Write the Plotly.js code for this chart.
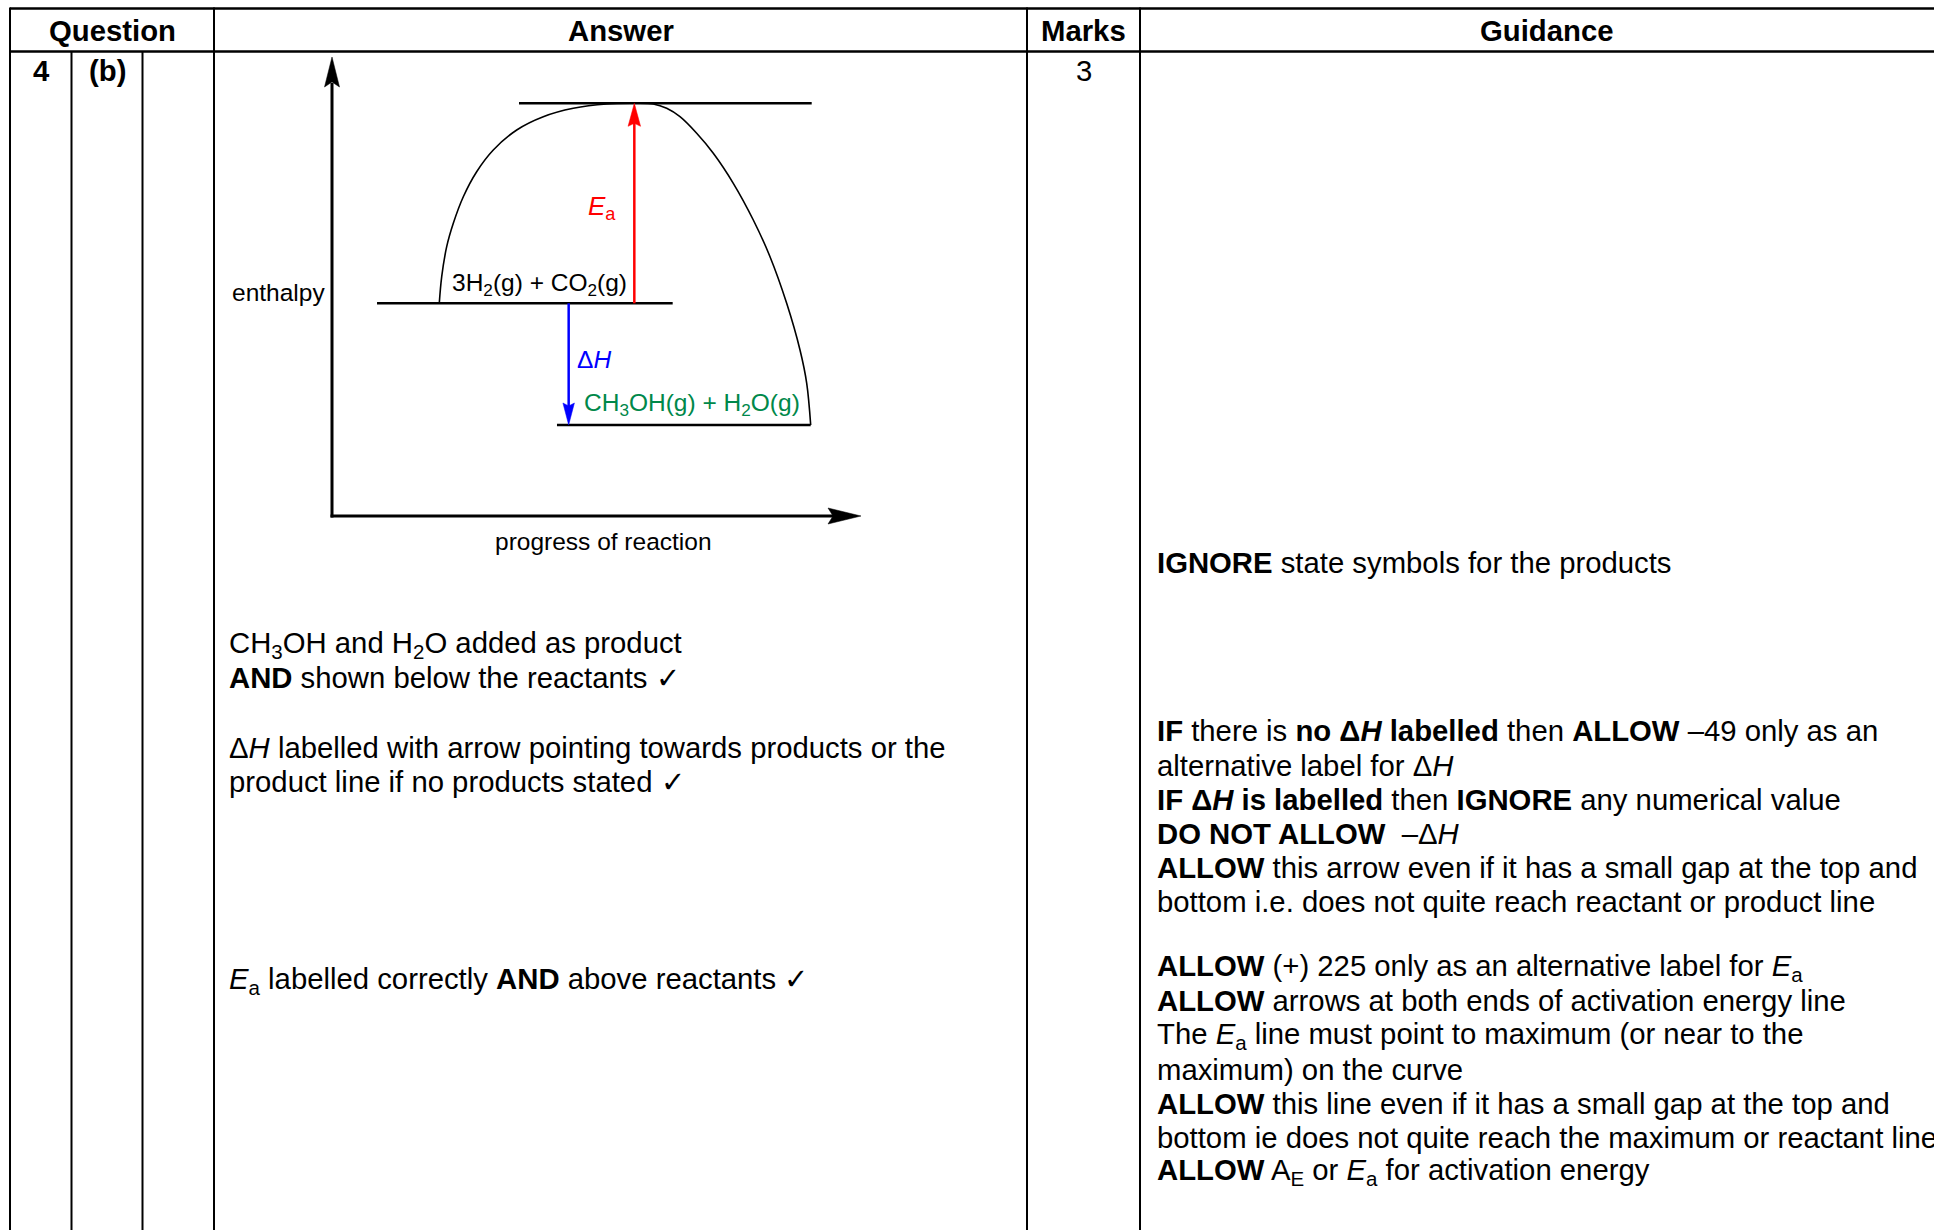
<!DOCTYPE html>
<html>
<head>
<meta charset="utf-8">
<script src="https://cdn.plot.ly/plotly-3.0.1.min.js"></script>
<style>html,body{margin:0;padding:0;background:#fff;}#chart{width:1934px;height:1230px;}</style>
</head>
<body>
<div id="chart"></div>
<script>
// ---------------- DATA (arbitrary enthalpy units) ----------------
const curveProgress = [20.28, 20.74, 21.68, 22.93, 24.82, 27.35, 30.49, 34.92, 39.94, 45.61, 51.93, 56.96, 60.74, 63.27, 65.78, 68.94, 72.08, 75.86, 79.64, 82.80, 85.95, 88.47, 89.74, 90.49];
const curveEnthalpy = [46.34, 52.14, 58.67, 63.77, 69.56, 75.01, 79.74, 84.10, 86.99, 88.82, 89.76, 89.91, 89.76, 88.82, 86.99, 83.38, 79.02, 72.48, 64.49, 56.49, 46.34, 36.17, 28.91, 19.83];
const levelNames = ['reactants', 'transition state', 'products'];
const levelEnthalpy = [46.34, 89.91, 19.83];
const levelStart = [8.51, 35.35, 42.53];
const levelEnd = [64.40, 90.68, 90.49];
const eaProgress = 57.15;   // position of the Ea arrow
const dHProgress = 44.74;   // position of the dH arrow

const headerLabels = ['Question', 'Answer', 'Marks', 'Guidance'];
const rowLabels = ['4', '(b)', '', '3'];
const answerLines = [
  'CH<sub>3</sub>OH and H<sub>2</sub>O added as product',
  '<b>AND</b> shown below the reactants \u2713',
  '\u0394<i>H</i> labelled with arrow pointing towards products or the',
  'product line if no products stated \u2713',
  '<i>E</i><sub>a</sub> labelled correctly <b>AND</b> above reactants \u2713'
];
const guidanceLines = [
  '<b>IGNORE</b> state symbols for the products',
  '<b>IF</b> there is <b>no \u0394<i>H</i> labelled</b> then <b>ALLOW</b> \u201349 only as an',
  'alternative label for \u0394<i>H</i>',
  '<b>IF \u0394<i>H</i> is labelled</b> then <b>IGNORE</b> any numerical value',
  '<b>DO NOT ALLOW</b> \u00a0\u2013\u0394<i>H</i>',
  '<b>ALLOW</b> this arrow even if it has a small gap at the top and',
  'bottom i.e. does not quite reach reactant or product line',
  '<b>ALLOW</b> (+) 225 only as an alternative label for <i>E</i><sub>a</sub>',
  '<b>ALLOW</b> arrows at both ends of activation energy line',
  'The <i>E</i><sub>a</sub> line must point to maximum (or near to the',
  'maximum) on the curve',
  '<b>ALLOW</b> this line even if it has a small gap at the top and',
  'bottom ie does not quite reach the maximum or reactant line',
  '<b>ALLOW</b> A<sub>E</sub> or <i>E</i><sub>a</sub> for activation energy'
];

// ---------------- LAYOUT GEOMETRY ----------------
const W = 1934, H = 1230;
const F = 'Liberation Sans, Arial, Helvetica, sans-serif';
const FS = 29.3;
const colX = [10, 71.5, 142.5, 214, 1027, 1140];
const topY = 8.5, headY = 51.5;
const headCenters = [112, 620.5, 1083.5, 1547];
const rowCenters = [41, 107, 178, 1083.5];
const answerX = 228, answerY = [644, 677, 747, 781, 980];
const guideX = 1155.5;
const guideY = [562.5, 730.5, 765, 799, 833, 867, 901.5, 967, 1000.5, 1035, 1069, 1103, 1137, 1171];

// diagram frame (px)
const ox = 332, oy = 516, xTip = 861, yTip = 57;
const xr = [0, 100], yr = [0, 100];
const sx = (xTip - ox) / (xr[1] - xr[0]);
const sy = (oy - yTip) / (yr[1] - yr[0]);
const toPx = (xd, yd) => [ox + (xd - xr[0]) * sx, oy - (yd - yr[0]) * sy];

function head(tx, ty, dir, len, wid, notch) {
  let p;
  if (dir === 'up') p = [[tx, ty], [tx - wid / 2, ty + len], [tx, ty + len - notch], [tx + wid / 2, ty + len]];
  else if (dir === 'down') p = [[tx, ty], [tx - wid / 2, ty - len], [tx, ty - len + notch], [tx + wid / 2, ty - len]];
  else p = [[tx, ty], [tx - len, ty - wid / 2], [tx - len + notch, ty], [tx - len, ty + wid / 2]];
  return 'M' + p.map(q => q[0].toFixed(2) + ',' + q[1].toFixed(2)).join('L') + 'Z';
}

const shapes = [];
const L = (x0, y0, x1, y1, w, c) => shapes.push({type: 'line', xref: 'x', yref: 'y', x0, y0, x1, y1, line: {color: c || '#000', width: w || 2}});
const P = (path, c) => shapes.push({type: 'path', xref: 'x', yref: 'y', path, fillcolor: c, line: {color: c, width: 0.5}});

// table
L(colX[0], topY, W, topY, 2.5);
L(colX[0], headY, W, headY, 2.5);
L(colX[0], topY - 1, colX[0], H, 2);
L(colX[1], headY, colX[1], H, 2);
L(colX[2], headY, colX[2], H, 2);
L(colX[3], topY - 1, colX[3], H, 2);
L(colX[4], topY - 1, colX[4], H, 2);
L(colX[5], topY - 1, colX[5], H, 2);

// diagram axes with arrowheads
L(ox, oy + 1.5, ox, yTip + 26, 3);
L(ox - 1.5, oy, xTip - 28, oy, 3);
P(head(ox, yTip, 'up', 30, 15, 5), '#000');
P(head(xTip, oy, 'right', 33, 16, 5), '#000');

// Ea and dH arrowheads
const tPx = toPx(eaProgress, levelEnthalpy[1]);
const dBot = toPx(dHProgress, levelEnthalpy[2]);
P(head(tPx[0], tPx[1], 'up', 23, 12.5, 3), '#ff0000');
P(head(dBot[0], dBot[1], 'down', 22, 11.5, 3), '#0000ff');

// ---------------- TRACES ----------------
const traces = [];
traces.push({x: [], y: [], xaxis: 'x', yaxis: 'y', type: 'scatter', hoverinfo: 'skip'});
for (let i = 0; i < levelNames.length; i++) {
  traces.push({x: [levelStart[i], levelEnd[i]], y: [levelEnthalpy[i], levelEnthalpy[i]], name: levelNames[i],
    xaxis: 'x2', yaxis: 'y2', type: 'scatter', mode: 'lines', line: {color: '#000', width: 2.5}, hoverinfo: 'skip'});
}
traces.push({x: curveProgress, y: curveEnthalpy, name: 'profile', xaxis: 'x2', yaxis: 'y2', type: 'scatter', mode: 'lines',
  line: {color: '#000', width: 1.6, shape: 'spline', smoothing: 1}, hoverinfo: 'skip'});
traces.push({x: [eaProgress, eaProgress], y: [levelEnthalpy[0], levelEnthalpy[1] - 18 / sy], name: 'Ea',
  xaxis: 'x2', yaxis: 'y2', type: 'scatter', mode: 'lines', line: {color: '#ff0000', width: 2.5}, hoverinfo: 'skip'});
traces.push({x: [dHProgress, dHProgress], y: [levelEnthalpy[0], levelEnthalpy[2] + 17 / sy], name: 'dH',
  xaxis: 'x2', yaxis: 'y2', type: 'scatter', mode: 'lines', line: {color: '#0000ff', width: 2.5}, hoverinfo: 'skip'});

// ---------------- TEXT ----------------
const ann = [];
const T = (x, y, text, o) => ann.push(Object.assign({xref: 'x', yref: 'y', x, y, text, showarrow: false, xanchor: 'left', yanchor: 'middle',
  borderpad: 0, font: {family: F, size: FS, color: '#000'}}, o || {}));

headerLabels.forEach((t, i) => T(headCenters[i], 30, '<b>' + t + '</b>', {xanchor: 'center'}));
rowLabels.forEach((t, i) => { if (t) T(rowCenters[i], 70, i < 2 ? '<b>' + t + '</b>' : t, {xanchor: 'center'}); });
answerLines.forEach((t, i) => T(answerX, answerY[i], t));
guidanceLines.forEach((t, i) => T(guideX, guideY[i], t));

// diagram labels
const dF = (c) => ({family: F, size: 24.5, color: c});
T(326, 292, 'enthalpy', {xanchor: 'right', font: dF('#000')});
T(603, 541, 'progress of reaction', {xanchor: 'center', font: dF('#000')});
T(451, 284.5, '3H<sub>2</sub>(g) + CO<sub>2</sub>(g)', {font: dF('#000')});
T(587, 207, '<i>E</i><sub>a</sub>', {font: {family: F, size: 26, color: '#ff0000'}});
T(576, 359, '\u0394<i>H</i>', {font: dF('#0000ff')});
T(583, 404.5, 'CH<sub>3</sub>OH(g) + H<sub>2</sub>O(g)', {font: dF('#00884a')});

const layout = {
  width: W, height: H, margin: {l: 0, r: 0, t: 0, b: 0, pad: 0},
  paper_bgcolor: '#fff', plot_bgcolor: 'rgba(0,0,0,0)', showlegend: false,
  xaxis: {domain: [0, 1], range: [0, W], visible: false, fixedrange: true},
  yaxis: {domain: [0, 1], range: [H, 0], visible: false, fixedrange: true},
  xaxis2: {domain: [ox / W, xTip / W], range: xr, visible: false, anchor: 'y2', fixedrange: true},
  yaxis2: {domain: [1 - oy / H, 1 - yTip / H], range: yr, visible: false, anchor: 'x2', fixedrange: true},
  shapes, annotations: ann
};
Plotly.newPlot('chart', traces, layout, {displayModeBar: false});
</script>
</body>
</html>
